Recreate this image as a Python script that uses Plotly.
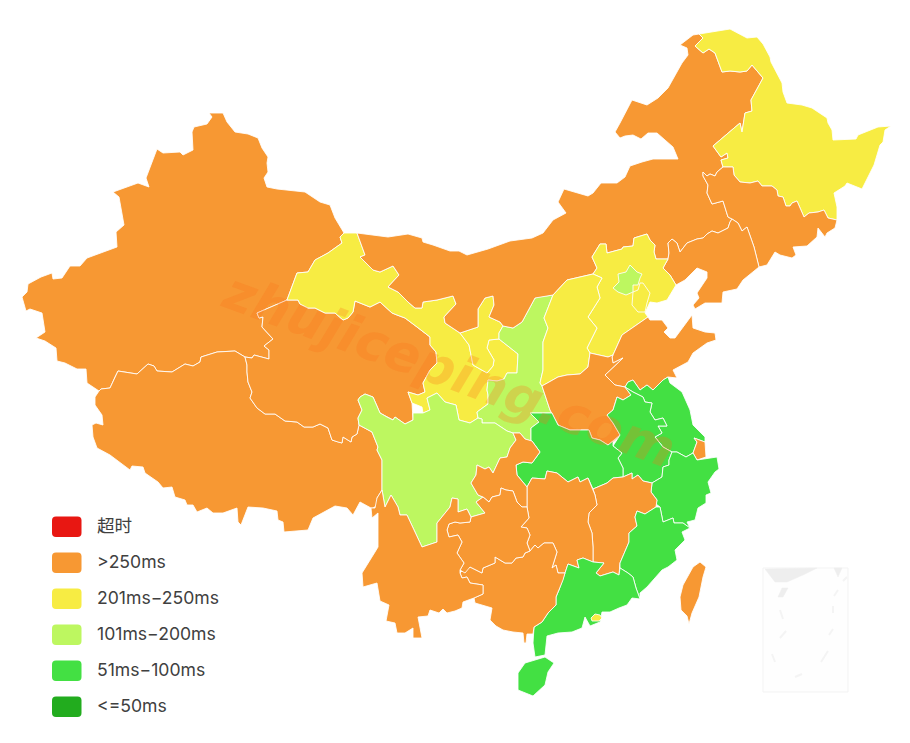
import plotly.graph_objects as go

# legend buckets, worst to best
bucket_names = ["超时", ">250ms", "201ms-250ms", "101ms-200ms", "51ms-100ms", "<=50ms"]
bucket_colors = ["#E81712", "#F79833", "#F7EC43", "#BDF760", "#43E043", "#22AC1E"]

# province -> bucket index
province_bucket = {
    "xinjiang": 1, "tibet": 1, "qinghai": 1, "gansu": 2, "ningxia": 2, "shaanxi": 3,
    "neimenggu": 1, "heilongjiang": 2, "jilin": 1, "liaoning": 1, "hebei": 2, "beijing": 3,
    "tianjin": 2, "shanxi": 2, "shandong": 1, "henan": 1, "jiangsu": 4, "anhui": 4,
    "shanghai": 1, "zhejiang": 4, "hubei": 4, "jiangxi": 1, "hunan": 1, "fujian": 4,
    "guangdong": 4, "guangxi": 1, "hainan": 4, "hongkong": 2, "taiwan": 1, "sichuan": 3,
    "chongqing": 1, "guizhou": 1, "yunnan": 1,
}

# outlines
xinjiang = [(209,113),(223,113),(227,122),(235,132),(248,134),(258,138),(262,148),(268,157),(267,163),(268,172),(264,178),(267,187),(277,189),(305,192),(320,202),(330,205),(335,218),(344,233),(340,237),(342,243),(328,253),(315,260),(308,272),(297,273),(287,300),(257,313),(259,318),(263,317),(262,327),(273,339),(264,346),(269,350),(269,359),(254,355),(252,358),(245,357),(235,351),(217,352),(201,357),(200,362),(193,366),(185,364),(172,372),(157,371),(154,366),(148,364),(137,374),(118,371),(115,377),(110,388),(101,389),(99,391),(87,383),(86,369),(77,369),(65,363),(57,361),(56,348),(45,341),(36,338),(45,332),(42,313),(30,309),(26,311),(22,297),(27,292),(28,284),(41,277),(52,273),(53,279),(62,278),(70,266),(80,266),(87,258),(117,247),(116,232),(124,225),(119,197),(113,192),(138,183),(149,187),(146,178),(157,149),(163,153),(180,152),(183,155),(193,150),(192,132),(194,127),(207,124),(212,117)]
tibet = [(99,391),(101,389),(110,388),(115,377),(118,371),(137,374),(148,364),(154,366),(157,371),(172,372),(185,364),(193,366),(200,362),(201,357),(217,352),(235,351),(245,357),(247,365),(247,372),(248,382),(252,392),(250,398),(257,408),(265,414),(275,414),(285,421),(297,422),(304,427),(313,427),(320,424),(328,428),(332,440),(338,442),(342,443),(343,437),(351,442),(352,437),(357,434),(359,425),(372,432),(378,447),(377,450),(382,460),(382,490),(377,498),(378,505),(373,508),(371,508),(360,502),(353,515),(347,508),(335,506),(313,518),(308,530),(284,532),(283,522),(278,520),(277,511),(263,508),(248,507),(241,525),(238,522),(237,508),(223,513),(213,513),(207,508),(197,512),(193,505),(187,505),(185,500),(175,497),(172,487),(163,488),(158,482),(145,473),(143,467),(132,466),(130,470),(110,455),(97,448),(93,437),(92,425),(96,423),(103,425),(102,415),(95,405),(95,397)]
qinghai = [(287,300),(298,300),(300,304),(308,308),(315,308),(325,313),(335,313),(343,320),(348,318),(353,312),(355,301),(370,307),(380,302),(392,313),(397,315),(405,318),(417,327),(430,337),(430,345),(436,352),(437,363),(430,370),(423,383),(425,392),(418,395),(408,392),(412,403),(413,413),(413,420),(405,424),(395,417),(393,420),(387,417),(380,413),(373,397),(365,394),(360,397),(358,400),(362,410),(358,418),(359,425),(357,434),(352,437),(351,442),(343,437),(342,443),(338,442),(332,440),(328,428),(320,424),(313,427),(304,427),(297,422),(285,421),(275,414),(265,414),(257,408),(250,398),(252,392),(248,382),(247,372),(247,365),(245,357),(252,358),(254,355),(269,359),(269,350),(264,346),(273,339),(262,327),(263,317),(259,318),(257,313)]
gansu = [(344,233),(357,233),(365,255),(360,257),(373,270),(380,272),(393,266),(399,275),(388,287),(398,292),(408,302),(415,308),(422,308),(423,302),(437,300),(453,296),(456,304),(444,317),(445,323),(460,333),(469,345),(473,365),(487,373),(493,366),(494,360),(487,348),(489,340),(499,339),(518,354),(517,373),(507,373),(504,379),(497,381),(488,380),(487,390),(488,395),(488,404),(477,412),(478,418),(470,423),(459,420),(456,405),(445,402),(437,393),(427,398),(430,410),(423,413),(422,407),(412,403),(408,392),(418,395),(425,392),(423,383),(430,370),(437,363),(436,352),(430,345),(430,337),(417,327),(405,318),(397,315),(392,313),(380,302),(370,307),(355,301),(353,312),(348,318),(343,320),(335,313),(325,313),(315,308),(308,308),(300,304),(298,300),(287,300),(297,273),(308,272),(315,260),(328,253),(342,243),(340,237)]
ningxia = [(478,309),(485,298),(493,296),(494,305),(489,317),(500,322),(503,326),(499,333),(499,339),(489,340),(487,348),(494,360),(493,366),(487,373),(473,365),(469,345),(460,333),(478,327)]
shaanxi = [(503,326),(513,328),(522,322),(535,298),(538,297),(553,295),(544,318),(548,328),(543,342),(543,353),(543,370),(540,383),(542,386),(550,410),(552,413),(530,413),(539,422),(531,428),(531,441),(525,439),(520,433),(513,433),(507,431),(495,423),(482,423),(482,419),(478,418),(477,412),(488,404),(488,395),(487,390),(488,380),(497,381),(504,379),(507,373),(517,373),(518,354),(499,339),(499,333)]
neimenggu = [(699,34),(693,35),(680,45),(687,48),(688,55),(682,63),(668,88),(658,98),(647,105),(632,100),(620,123),(615,132),(620,138),(625,136),(633,135),(641,139),(648,133),(657,133),(673,147),(678,159),(665,159),(653,159),(642,162),(630,166),(625,177),(617,183),(601,183),(593,193),(588,196),(564,189),(558,202),(566,213),(553,220),(543,233),(532,238),(510,241),(488,249),(467,255),(459,251),(450,251),(433,245),(423,242),(422,238),(408,234),(388,237),(357,233),(365,255),(360,257),(373,270),(380,272),(393,266),(399,275),(388,287),(398,292),(408,302),(415,308),(422,308),(423,302),(437,300),(453,296),(456,304),(444,317),(445,323),(460,333),(478,327),(478,309),(485,298),(493,296),(494,305),(489,317),(500,322),(503,326),(513,328),(522,322),(535,298),(553,295),(567,280),(593,274),(597,268),(592,257),(600,244),(606,244),(607,253),(622,249),(623,247),(633,246),(634,238),(647,234),(650,240),(655,245),(654,252),(656,259),(668,259),(669,253),(668,243),(672,239),(677,243),(680,252),(687,243),(697,239),(703,238),(707,234),(712,231),(718,233),(728,228),(730,222),(732,219),(728,217),(723,201),(712,204),(707,193),(708,185),(703,176),(703,172),(707,176),(710,174),(715,176),(717,172),(723,167),(721,160),(728,158),(727,153),(721,157),(713,146),(740,123),(742,132),(745,113),(752,111),(751,100),(763,78),(752,65),(747,71),(740,72),(730,71),(722,72),(715,53),(709,49),(703,53),(695,46),(703,38)]
heilongjiang = [(699,34),(730,29),(747,38),(757,37),(763,44),(770,57),(771,62),(776,72),(782,83),(783,92),(787,103),(802,105),(812,108),(827,118),(828,123),(832,130),(833,140),(856,139),(858,135),(878,127),(891,126),(885,130),(883,142),(880,145),(874,165),(865,183),(862,189),(847,183),(845,186),(834,193),(837,207),(837,220),(828,218),(824,210),(818,212),(809,213),(804,217),(797,201),(792,203),(790,206),(786,206),(783,197),(778,196),(777,190),(772,186),(762,186),(758,181),(750,183),(740,182),(734,175),(733,167),(723,167),(721,160),(728,158),(727,153),(721,157),(713,146),(740,123),(742,132),(745,113),(752,111),(751,100),(763,78),(752,65),(747,71),(740,72),(730,71),(722,72),(715,53),(709,49),(703,53),(695,46),(703,38)]
jilin = [(723,167),(733,167),(734,175),(740,182),(750,183),(758,181),(762,186),(772,186),(777,190),(778,196),(783,197),(786,206),(790,206),(792,203),(797,201),(804,217),(809,213),(818,212),(824,210),(828,218),(837,220),(835,228),(827,233),(825,237),(818,228),(817,237),(807,246),(793,247),(796,255),(792,258),(780,255),(775,252),(767,265),(759,267),(754,247),(747,227),(742,231),(738,223),(732,219),(728,217),(723,201),(712,204),(707,193),(708,185),(703,176),(703,172),(707,176),(710,174),(715,176),(717,172)]
liaoning = [(730,222),(728,228),(718,233),(712,231),(707,234),(703,238),(697,239),(687,243),(680,252),(677,243),(672,239),(668,243),(669,253),(668,259),(663,268),(670,275),(676,285),(685,280),(697,268),(707,272),(707,278),(697,293),(699,298),(693,305),(695,309),(705,303),(722,303),(723,292),(737,289),(743,280),(759,267),(754,247),(747,227),(742,231),(738,223),(732,219)]
hebei = [(592,257),(600,244),(606,244),(607,253),(622,249),(623,247),(633,246),(634,238),(647,234),(650,240),(655,245),(654,252),(656,259),(668,259),(663,268),(670,275),(676,285),(667,300),(657,303),(650,302),(645,313),(648,317),(622,335),(613,355),(608,357),(590,353),(587,348),(597,328),(588,317),(600,298),(597,287),(602,278),(593,274),(597,268)]
beijing = [(630,265),(637,272),(642,274),(640,278),(638,285),(633,285),(633,292),(626,295),(618,292),(613,288),(619,282),(618,274),(626,272)]
tianjin = [(643,283),(650,293),(647,303),(645,312),(638,312),(632,305),(633,292),(638,290),(640,283)]
shanxi = [(553,295),(567,280),(593,274),(602,278),(597,287),(600,298),(588,317),(597,328),(587,348),(590,353),(588,367),(580,374),(567,375),(558,377),(542,386),(540,383),(543,370),(543,353),(543,342),(548,328),(544,318)]
shandong = [(648,317),(650,320),(662,320),(668,328),(664,332),(670,338),(675,338),(687,322),(692,315),(693,328),(705,332),(715,333),(716,340),(707,343),(693,353),(688,362),(673,370),(677,378),(668,377),(663,380),(653,390),(647,385),(640,390),(633,380),(628,382),(625,387),(615,385),(605,375),(623,358),(613,363),(612,357),(613,355),(622,335)]
henan = [(542,386),(558,377),(567,375),(580,374),(588,367),(590,353),(608,357),(613,355),(612,357),(613,363),(623,358),(605,375),(615,385),(625,387),(631,395),(623,400),(617,397),(613,410),(607,415),(613,423),(620,435),(613,441),(608,445),(600,440),(592,438),(589,430),(570,430),(558,425),(552,413),(550,410)]
jiangsu = [(668,377),(663,380),(653,390),(647,385),(640,390),(633,380),(628,382),(625,387),(633,392),(643,397),(645,402),(652,403),(650,412),(655,420),(663,418),(667,426),(658,426),(662,433),(655,437),(663,447),(672,452),(677,452),(686,457),(693,453),(697,442),(694,438),(705,442),(705,437),(698,430),(693,425),(690,410),(682,392),(670,383)]
anhui = [(613,446),(620,435),(613,423),(607,415),(613,410),(617,397),(623,400),(631,395),(625,387),(633,392),(643,397),(645,402),(652,403),(650,412),(655,420),(663,418),(667,426),(658,426),(662,433),(655,437),(663,447),(672,452),(669,460),(669,465),(663,467),(662,477),(652,483),(643,481),(638,475),(632,479),(632,473),(623,477),(623,468),(618,458),(622,453)]
shanghai = [(694,438),(705,442),(706,457),(697,460),(693,453),(697,442)]
zhejiang = [(672,452),(677,452),(686,457),(693,453),(697,460),(717,457),(719,469),(715,472),(708,482),(711,493),(706,495),(706,503),(698,508),(695,520),(687,522),(690,528),(683,523),(674,523),(673,518),(663,522),(660,507),(656,504),(657,500),(651,492),(652,483),(662,477),(663,467),(669,465),(669,460)]
hubei = [(531,428),(539,422),(530,413),(552,413),(558,425),(570,430),(589,430),(592,438),(600,440),(608,445),(613,441),(613,446),(622,453),(618,458),(623,468),(623,477),(613,478),(607,483),(593,489),(588,478),(580,482),(578,477),(568,482),(557,473),(547,471),(545,479),(532,478),(527,487),(517,475),(516,465),(523,462),(532,463),(540,452),(532,441),(531,441)]
jiangxi = [(593,489),(607,483),(613,478),(623,477),(632,473),(632,479),(638,475),(643,481),(652,483),(651,492),(657,500),(656,507),(645,514),(637,511),(635,517),(637,526),(629,533),(629,542),(620,563),(619,575),(613,572),(600,576),(596,573),(604,563),(593,562),(593,547),(592,533),(588,522),(589,513),(597,505),(595,495)]
hunan = [(527,487),(532,478),(545,479),(547,471),(557,473),(568,482),(578,477),(580,482),(588,478),(593,489),(595,495),(597,505),(589,513),(588,522),(592,533),(593,547),(593,562),(583,558),(577,560),(579,568),(568,564),(565,573),(558,573),(556,565),(552,568),(557,552),(553,543),(544,543),(538,548),(535,545),(530,551),(527,543),(530,535),(527,528),(521,527),(529,518),(527,507)]
fujian = [(656,507),(660,507),(663,522),(673,518),(674,523),(683,523),(690,528),(682,532),(685,540),(675,550),(677,560),(668,567),(662,570),(653,580),(647,587),(640,593),(640,599),(636,588),(633,577),(628,573),(620,568),(620,563),(629,542),(629,533),(637,526),(635,517),(637,511),(645,514)]
guangdong = [(565,573),(568,564),(579,568),(577,560),(583,558),(593,562),(604,563),(596,573),(600,576),(613,572),(619,575),(620,568),(628,573),(633,577),(636,588),(640,599),(632,598),(627,605),(619,608),(610,612),(602,612),(600,622),(590,626),(585,617),(582,628),(572,632),(558,633),(547,636),(545,655),(535,657),(533,643),(534,627),(542,622),(548,613),(556,605),(556,597),(559,590),(563,580)]
guangxi = [(460,573),(465,568),(470,567),(482,573),(483,568),(495,563),(495,557),(500,560),(505,563),(512,563),(516,558),(523,557),(525,553),(530,551),(535,545),(538,548),(544,543),(553,543),(557,552),(552,568),(556,565),(558,573),(565,573),(563,580),(559,590),(556,597),(556,605),(548,613),(542,622),(534,627),(533,634),(527,634),(526,643),(524,643),(523,633),(513,632),(503,630),(496,626),(490,620),(492,608),(475,603),(474,598),(483,594),(483,585),(470,583),(467,577),(462,578)]
hainan = [(545,657),(554,663),(548,672),(545,685),(533,696),(518,690),(518,673),(525,663)]
hongkong = [(591,618),(595,614),(600,615),(602,618),(599,621),(592,621)]
taiwan = [(700,562),(706,567),(703,577),(699,597),(692,613),(689,624),(687,616),(681,610),(680,597),(683,585),(693,567)]
sichuan = [(360,397),(365,394),(373,397),(380,413),(387,417),(393,420),(395,417),(405,424),(413,420),(413,413),(423,413),(430,410),(427,398),(437,393),(445,402),(456,405),(459,420),(470,423),(478,418),(482,419),(482,423),(495,423),(507,431),(513,433),(516,440),(510,448),(507,457),(500,458),(493,473),(489,467),(485,469),(477,465),(476,475),(471,483),(478,495),(483,497),(476,502),(485,513),(471,517),(467,509),(458,512),(458,499),(452,498),(450,507),(437,523),(437,542),(422,547),(407,515),(400,515),(398,507),(391,495),(385,507),(382,490),(382,460),(377,450),(378,447),(372,432),(359,425),(358,418),(362,410),(358,400)]
chongqing = [(513,433),(520,433),(525,439),(531,441),(532,441),(540,452),(532,463),(523,462),(516,465),(517,475),(527,487),(527,507),(522,507),(517,502),(513,491),(506,490),(501,488),(500,495),(492,497),(489,502),(483,497),(478,495),(471,483),(476,475),(477,465),(485,469),(489,467),(493,473),(500,458),(507,457),(510,448),(516,440)]
guizhou = [(489,502),(492,497),(500,495),(501,488),(506,490),(513,491),(517,502),(522,507),(527,507),(529,518),(521,527),(527,528),(530,535),(527,543),(530,551),(525,553),(523,557),(516,558),(512,563),(505,563),(500,560),(495,557),(495,563),(483,568),(482,573),(470,567),(465,573),(460,570),(464,563),(457,553),(462,542),(458,535),(449,537),(447,530),(449,524),(455,522),(460,523),(470,522),(471,517),(485,513),(476,502),(483,497)]
yunnan = [(382,490),(385,507),(391,495),(398,507),(400,515),(407,515),(422,547),(437,542),(437,523),(450,507),(452,498),(458,499),(458,512),(467,509),(471,517),(470,522),(460,523),(455,522),(449,524),(447,530),(449,537),(458,535),(462,542),(457,553),(464,563),(460,570),(460,573),(462,578),(467,577),(470,583),(483,585),(483,594),(474,598),(463,602),(462,608),(455,611),(447,613),(443,609),(439,613),(430,610),(428,616),(418,617),(422,638),(413,638),(413,628),(405,633),(397,633),(395,623),(386,621),(389,605),(380,601),(377,583),(363,587),(362,573),(375,552),(378,547),(378,513),(372,518),(371,508),(375,508),(377,498)]

provinces = {
    "xinjiang": xinjiang, "tibet": tibet, "qinghai": qinghai, "gansu": gansu, "ningxia": ningxia,
    "shaanxi": shaanxi, "neimenggu": neimenggu, "heilongjiang": heilongjiang, "jilin": jilin,
    "liaoning": liaoning, "hebei": hebei, "tianjin": tianjin, "beijing": beijing, "shanxi": shanxi,
    "shandong": shandong, "henan": henan, "jiangsu": jiangsu, "anhui": anhui, "shanghai": shanghai,
    "zhejiang": zhejiang, "hubei": hubei, "jiangxi": jiangxi, "hunan": hunan, "fujian": fujian,
    "guangdong": guangdong, "guangxi": guangxi, "hainan": hainan, "hongkong": hongkong,
    "taiwan": taiwan, "sichuan": sichuan, "chongqing": chongqing, "guizhou": guizhou, "yunnan": yunnan,
}

# south china sea inset
inset_box = [(763,568),(848,568),(848,692),(763,692)]
inset_islands = [
    [(765,569),(817,568),(803,575),(787,582),(775,582)],
    [(834,568),(842,568),(838,577)],
    [(782,588),(788,588),(783,597),(778,597)],
]
inset_dashes = [
    [(780,610),(783,619)], [(786,631),(780,638)], [(772,654),(775,662)], [(795,677),(802,674)],
    [(821,662),(828,651)], [(829,635),(833,629)], [(833,606),(833,613)], [(834,596),(838,590)],
    [(843,581),(847,577)],
]

fig = go.Figure()

def add_poly(points, fill, line, width=1):
    xs = [p[0] for p in points] + [points[0][0]]
    ys = [p[1] for p in points] + [points[0][1]]
    fig.add_trace(go.Scatter(x=xs, y=ys, mode="lines", fill="toself", fillcolor=fill,
                             line=dict(color=line, width=width), hoverinfo="skip", showlegend=False))

add_poly(inset_box, "#FEFEFE", "#F3F3F3")
for isl in inset_islands:
    add_poly(isl, "#EEEEEE", "#EEEEEE", 0.5)
for d in inset_dashes:
    fig.add_trace(go.Scatter(x=[p[0] for p in d], y=[p[1] for p in d], mode="lines",
                             line=dict(color="#F4F4F4", width=2), hoverinfo="skip", showlegend=False))

for name, pts in provinces.items():
    add_poly(pts, bucket_colors[province_bucket[name]], "rgba(255,255,255,0.85)", 1)

# legend is drawn by hand, the original has rounded swatches
legend_left, legend_top, legend_step = 52, 516.5, 36
shapes = []
annotations = []
for n, (label, color) in enumerate(zip(bucket_names, bucket_colors)):
    y0 = legend_top + n * legend_step
    y1 = y0 + 20.5
    x0, x1, r = legend_left, legend_left + 29.5, 4
    path = (f"M{x0+r},{y0} L{x1-r},{y0} Q{x1},{y0} {x1},{y0+r} L{x1},{y1-r} Q{x1},{y1} {x1-r},{y1} "
            f"L{x0+r},{y1} Q{x0},{y1} {x0},{y1-r} L{x0},{y0+r} Q{x0},{y0} {x0+r},{y0} Z")
    shapes.append(dict(type="path", path=path, fillcolor=color, line=dict(width=0), layer="above"))
    annotations.append(dict(x=95, y=y0 + 9, text=label.replace("-", "\u2212"), showarrow=False, xanchor="left", yanchor="middle",
                            font=dict(family="Inter, 'Noto Sans CJK SC', sans-serif", size=17.6, color="#404040")))

# watermark
annotations.append(dict(x=449, y=370, text="<b><i>zhujiceping.com</i></b>", showarrow=False, textangle=20,
                        font=dict(family="'DejaVu Sans', sans-serif", size=52, color="rgba(250,115,25,0.27)")))

fig.update_layout(
    width=910, height=743, margin=dict(l=0, r=0, t=0, b=0),
    paper_bgcolor="white", plot_bgcolor="white", showlegend=False,
    xaxis=dict(range=[0, 910], visible=False, fixedrange=True),
    yaxis=dict(range=[743, 0], visible=False, fixedrange=True),
    shapes=shapes, annotations=annotations,
)

fig.write_html("out.html", post_script="document.body.style.margin='0';", config={"displayModeBar": False})
